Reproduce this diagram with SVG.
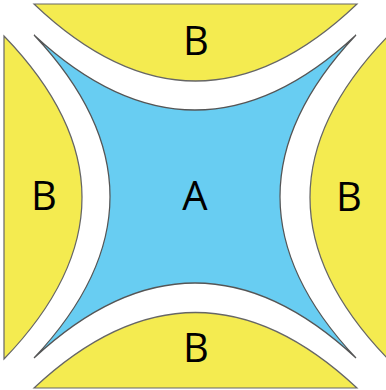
<svg xmlns="http://www.w3.org/2000/svg" width="386" height="390" viewBox="0 0 386 390">
<style>
.y{fill:#F4EB50;stroke:#666;stroke-width:1.2}
.b{fill:#68CDF2;stroke:#555;stroke-width:1.2}
text{font-family:"Open Sans","Liberation Sans",sans-serif;font-size:40px;fill:#000;text-anchor:middle}
</style>
<rect width="386" height="390" fill="#fff"/>
<g id="A">
<path class="b" d="M34,35 Q195,185 356,35 Q204,196.5 356,358 Q195,208 34,358 Q186,196.5 34,35 Z"/>
<text x="195" y="210">A</text>
</g>
<g id="B-top">
<path class="y" d="M34,4 L357,4 Q195.5,158 34,4 Z"/>
<text x="196" y="55">B</text>
</g>
<g id="B-left">
<path class="y" d="M4,36 L4,359 Q160,197.5 4,36 Z"/>
<text x="44" y="210">B</text>
</g>
<g id="B-right">
<path class="y" d="M388,36 L388,359 Q232,197.5 388,36 Z"/>
<text x="349" y="211">B</text>
</g>
<g id="B-bottom">
<path class="y" d="M34,388 L357,388 Q195.5,237 34,388 Z"/>
<text x="196" y="362">B</text>
</g>
<g id="connectors"/>
</svg>
